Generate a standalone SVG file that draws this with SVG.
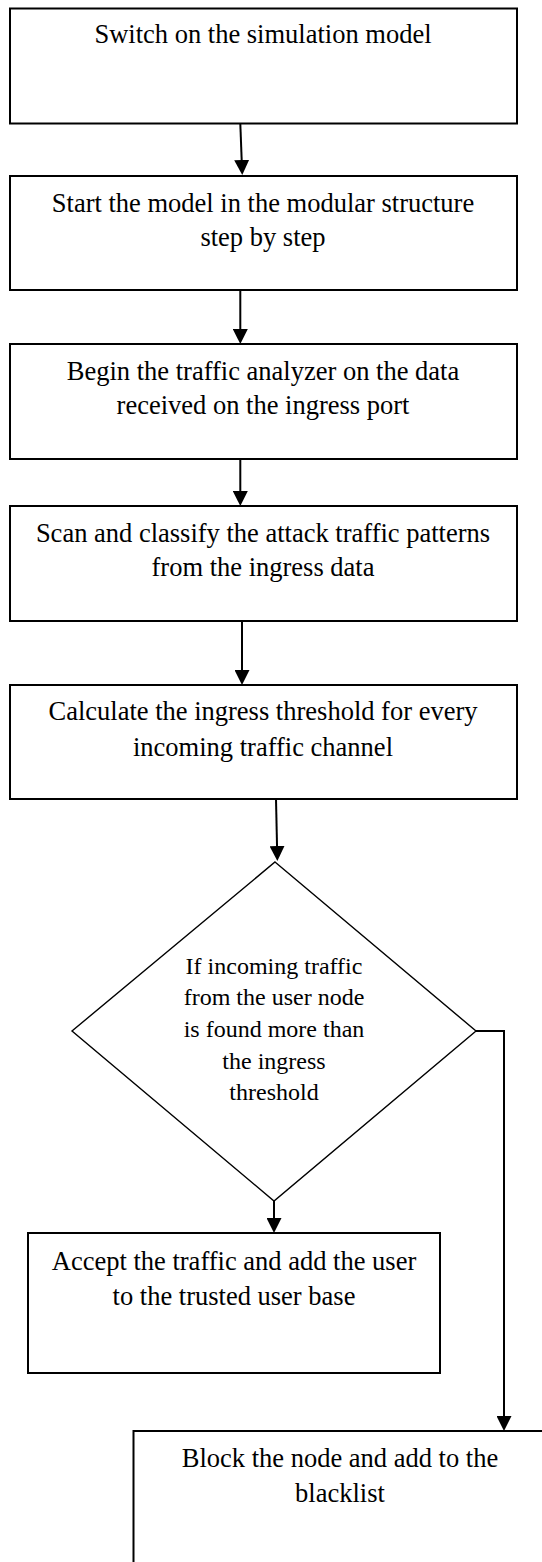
<svg xmlns="http://www.w3.org/2000/svg" width="542" height="1562" viewBox="0 0 542 1562">
  <style>
    .box { fill: #ffffff; stroke: #000000; stroke-width: 2; }
    .dia { fill: #ffffff; stroke: #000000; stroke-width: 1.4; }
    .lbl { font-family: "Liberation Serif", "Times New Roman", serif; font-size: 26.5px; fill: #000000; text-anchor: middle; }
    .dlbl { font-family: "Liberation Serif", "Times New Roman", serif; font-size: 24px; fill: #000000; text-anchor: middle; }
    .edge { fill: none; stroke: #000000; stroke-width: 2; }
  </style>
  <defs>
    <marker id="head" viewBox="0 0 15 15" refX="3" refY="7.5" markerWidth="15" markerHeight="15" markerUnits="userSpaceOnUse" orient="auto">
      <path d="M0,0 L15,7.5 L0,15 z" fill="#000000"/>
    </marker>
  </defs>
  <rect width="542" height="1562" fill="#ffffff"/>

  <!-- process steps -->
  <g id="step-switch-on">
    <rect class="box" x="10" y="8.5" width="507" height="115"/>
    <text class="lbl" x="263" y="43">Switch on the simulation model</text>
  </g>
  <g id="step-start-model">
    <rect class="box" x="10" y="176" width="507" height="114"/>
    <text class="lbl" x="263" y="212">Start the model in the modular structure</text>
    <text class="lbl" x="263" y="246">step by step</text>
  </g>
  <g id="step-traffic-analyzer">
    <rect class="box" x="10" y="344" width="507" height="115"/>
    <text class="lbl" x="263" y="380">Begin the traffic analyzer on the data</text>
    <text class="lbl" x="263" y="413.5">received on the ingress port</text>
  </g>
  <g id="step-classify">
    <rect class="box" x="10" y="506" width="507" height="115"/>
    <text class="lbl" x="263" y="542">Scan and classify the attack traffic patterns</text>
    <text class="lbl" x="263" y="576">from the ingress data</text>
  </g>
  <g id="step-threshold">
    <rect class="box" x="10" y="685" width="507" height="114"/>
    <text class="lbl" x="263" y="720">Calculate the ingress threshold for every</text>
    <text class="lbl" x="263" y="755.5">incoming traffic channel</text>
  </g>

  <!-- decision -->
  <g id="decision-over-threshold">
    <polygon class="dia" points="275,862 476,1031 274,1201 72,1031"/>
    <text class="dlbl" x="274" y="973.5">If incoming traffic</text>
    <text class="dlbl" x="274" y="1005">from the user node</text>
    <text class="dlbl" x="274" y="1037">is found more than</text>
    <text class="dlbl" x="274" y="1068.5">the ingress</text>
    <text class="dlbl" x="274" y="1100">threshold</text>
  </g>

  <!-- outcomes -->
  <g id="step-accept">
    <rect class="box" x="28" y="1233" width="412" height="140"/>
    <text class="lbl" x="234" y="1270">Accept the traffic and add the user</text>
    <text class="lbl" x="234" y="1305">to the trusted user base</text>
  </g>
  <g id="step-block">
    <rect class="box" x="133.5" y="1431" width="413" height="145"/>
    <text class="lbl" x="340" y="1467">Block the node and add to the</text>
    <text class="lbl" x="340" y="1502">blacklist</text>
  </g>

  <!-- connectors -->
  <g id="connectors">
    <line class="edge" x1="240.3" y1="123.5" x2="241.8" y2="163" marker-end="url(#head)"/>
    <line class="edge" x1="240.3" y1="290" x2="240.3" y2="332" marker-end="url(#head)"/>
    <line class="edge" x1="240.3" y1="459" x2="240.3" y2="494" marker-end="url(#head)"/>
    <line class="edge" x1="242" y1="621" x2="242" y2="673" marker-end="url(#head)"/>
    <line class="edge" x1="276" y1="799" x2="277.1" y2="849" marker-end="url(#head)"/>
    <line class="edge" x1="274" y1="1201" x2="274" y2="1221" marker-end="url(#head)"/>
    <polyline class="edge" points="476,1031 504,1031 504,1419" marker-end="url(#head)"/>
  </g>
</svg>
